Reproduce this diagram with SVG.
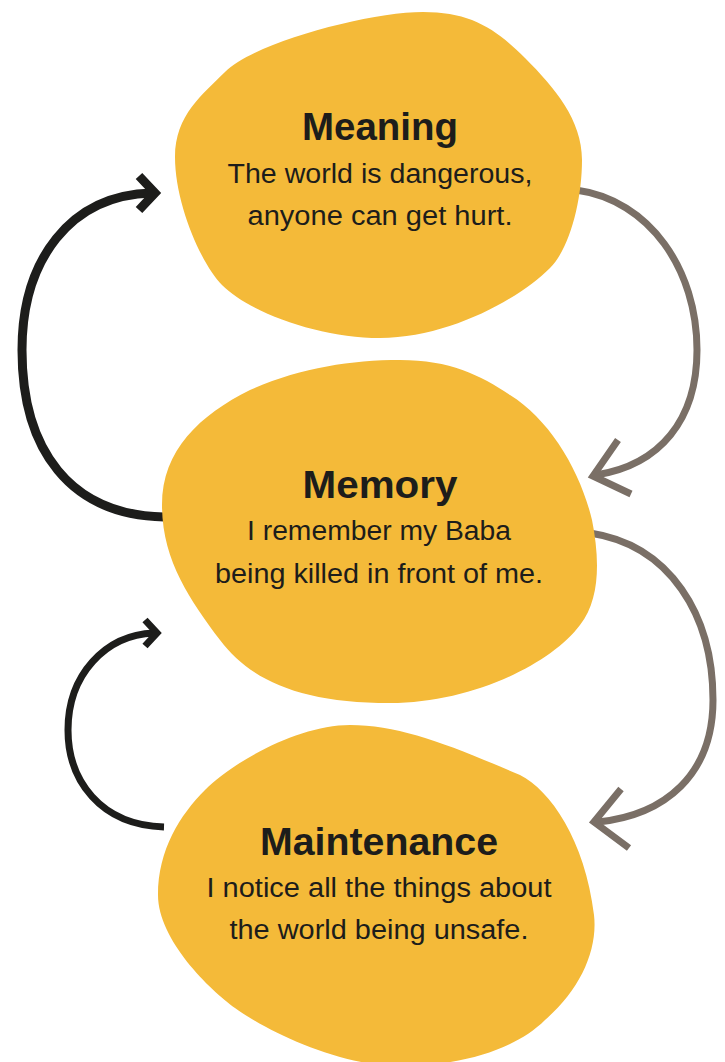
<svg xmlns="http://www.w3.org/2000/svg" width="725" height="1062" viewBox="0 0 725 1062">
<style>
.blob{fill:#F4BA39}
.title{font-family:"Liberation Sans",Arial,sans-serif;font-weight:bold;font-size:38px;fill:#1D1D1B;text-anchor:middle}
.sub{font-family:"Liberation Sans",Arial,sans-serif;font-size:27px;fill:#1D1D1B;text-anchor:middle}
.blk{fill:none;stroke:#1D1D1B;stroke-linejoin:miter;stroke-miterlimit:10}
.gry{fill:none;stroke:#7A6F66;stroke-width:7;stroke-linejoin:miter;stroke-miterlimit:10}
</style>
<rect width="725" height="1062" fill="#FFFFFF"/>
<g id="connectors">
  <path class="blk" stroke-width="9" d="M164,517 C70,515 22,450 22,350 C22,260 70,195 152,193"/>
  <polyline class="blk" stroke-width="9" points="139,176 155,193 139,210"/>
  <path class="blk" stroke-width="7" d="M164,827 C100,825 68,780 68,730 C68,675 105,635 154,633"/>
  <polyline class="blk" stroke-width="7" points="145,620 157,633 145,646"/>
  <path class="gry" d="M576,190 C650,200 697,270 697,350 C697,420 660,465 596,475"/>
  <polyline class="gry" points="618,440 593,476 631,494"/>
  <path class="gry" d="M590,533 C670,545 713,615 713,700 C713,775 665,815 598,822"/>
  <polyline class="gry" points="621,789 594,822 629,848"/>
</g>
<g id="node-meaning">
  <path class="blob" d="M423,12 C470,12 495,28 525,58 C555,88 582,120 582,160 C582,200 570,248 550,268 C520,298 450,338 380,338 C320,338 250,313 222,285 C202,265 175,205 175,157 C175,115 203,94 225,72 C255,42 370,12 423,12 Z"/>
  <text class="title" x="380" y="140" textLength="156" lengthAdjust="spacingAndGlyphs">Meaning</text>
  <text class="sub" x="380" y="183" textLength="305" lengthAdjust="spacingAndGlyphs">The world is dangerous,</text>
  <text class="sub" x="380" y="225" textLength="265" lengthAdjust="spacingAndGlyphs">anyone can get hurt.</text>
</g>
<g id="node-memory">
  <path class="blob" d="M400,360 C450,360 480,375 510,395 C550,420 580,470 592,520 C600,560 600,600 580,625 C550,665 470,703 390,703 C300,703 250,680 220,640 C190,600 162,560 162,505 C162,450 200,415 250,390 C300,368 350,360 400,360 Z"/>
  <text class="title" x="380" y="498" textLength="155" lengthAdjust="spacingAndGlyphs">Memory</text>
  <text class="sub" x="379" y="540" textLength="264" lengthAdjust="spacingAndGlyphs">I remember my Baba</text>
  <text class="sub" x="379" y="583" textLength="328" lengthAdjust="spacingAndGlyphs">being killed in front of me.</text>
</g>
<g id="node-maintenance">
  <path class="blob" d="M350,725 C400,725 450,745 520,775 C550,790 585,840 594,915 C598,950 580,990 545,1020 C515,1050 460,1066 400,1066 C340,1066 270,1033 235,1008 C210,990 158,940 158,895 C158,850 180,815 205,790 C235,760 300,725 350,725 Z"/>
  <text class="title" x="379" y="855" textLength="238" lengthAdjust="spacingAndGlyphs">Maintenance</text>
  <text class="sub" x="379" y="897" textLength="345" lengthAdjust="spacingAndGlyphs">I notice all the things about</text>
  <text class="sub" x="379" y="939" textLength="299" lengthAdjust="spacingAndGlyphs">the world being unsafe.</text>
</g>
</svg>
